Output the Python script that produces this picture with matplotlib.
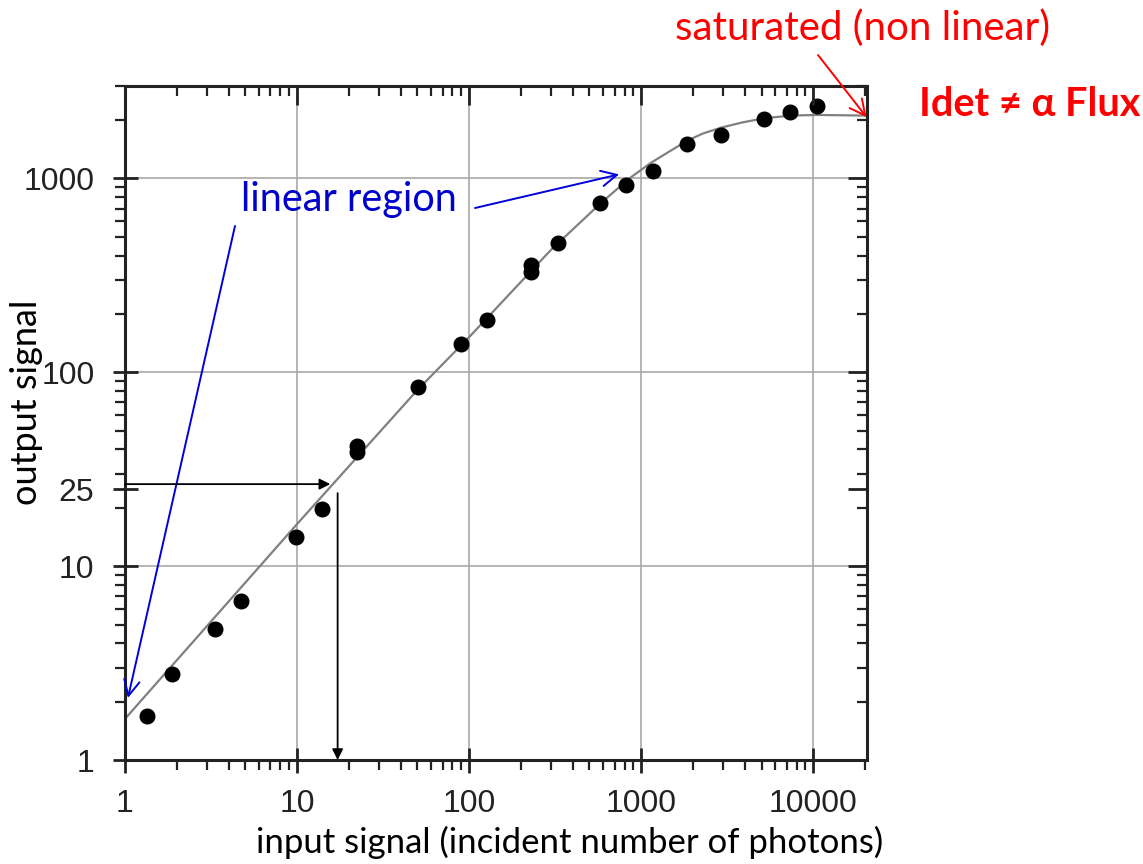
import matplotlib
matplotlib.use("Agg")
import matplotlib.pyplot as plt
from matplotlib.ticker import FixedLocator, NullFormatter, LogLocator

# ---- data ----
photons = [1.34, 1.88, 3.34, 4.74, 9.9, 14.0, 22.4, 22.4, 50.2, 89.3, 126.6,
           228, 228, 328, 576, 817, 1173, 1850, 2918, 5196, 7364, 10440]
signal = [1.69, 2.79, 4.76, 6.65, 14.2, 19.7, 41.6, 38.7, 84, 140, 187,
          359, 331, 467, 743, 921, 1088, 1501, 1671, 2023, 2198, 2360]

fit_x = [1, 10, 50, 100, 300, 600, 873, 1142, 1493, 1868, 2281, 2920, 3906,
         5220, 7460, 10440, 20000]
fit_y = [1.63, 16.5, 81, 152, 430, 765, 1016, 1207, 1397, 1574, 1706, 1831, 1950,
         2047, 2112, 2127, 2112]

x_ticks = [1, 10, 100, 1000, 10000]
x_tick_labels = ["1", "10", "100", "1000", "10000"]
y_ticks = [1, 10, 25, 100, 1000]
y_tick_labels = ["1", "10", "25", "100", "1000"]

W, H = 1143, 864
fig = plt.figure(figsize=(W / 100, H / 100), dpi=100)
L, R, T, B = 125, 867, 86, 760
ax = fig.add_axes([L / W, 1 - B / H, (R - L) / W, (B - T) / H])
ax.set_xscale("log")
ax.set_yscale("log")
ax.set_xlim(1, 20500)
ax.set_ylim(1, 3000)

ax.grid(False)
for v in [10, 100, 1000, 10000]:
    ax.axvline(v, color="#a8a8a8", lw=1.2, zorder=0)
for v in [10, 100, 1000]:
    ax.axhline(v, color="#a8a8a8", lw=1.2, zorder=0)

ax.plot(fit_x, fit_y, color="#808080", lw=1.6, zorder=2)
ax.plot(photons, signal, "o", color="black", ms=10.5, zorder=3)

tick_font = dict(family=["Liberation Sans", "DejaVu Sans"], size=23, color="#222222")
ax.xaxis.set_major_locator(FixedLocator(x_ticks))
ax.set_xticklabels(x_tick_labels, fontdict=tick_font)
ax.yaxis.set_major_locator(FixedLocator(y_ticks))
ax.set_yticklabels(y_tick_labels, fontdict=tick_font)
ax.xaxis.set_minor_locator(LogLocator(base=10, subs=range(2, 10), numticks=20))
ax.yaxis.set_minor_locator(LogLocator(base=10, subs=range(2, 10), numticks=20))
ax.xaxis.set_minor_formatter(NullFormatter())
ax.yaxis.set_minor_formatter(NullFormatter())
ax.tick_params(which="major", direction="inout", length=18, width=2, color="#222222")
ax.tick_params(axis="y", which="major", pad=13)
ax.tick_params(axis="x", which="major", pad=12)
ax.tick_params(which="minor", direction="out", length=7, width=1.6, color="#222222")
for s in ax.spines.values():
    s.set_linewidth(2.2)
    s.set_color("#222222")

# top / right ticks pointing inward
axt = ax.twiny()
axt.set_xscale("log")
axt.set_xlim(ax.get_xlim())
axt.xaxis.set_major_locator(FixedLocator(x_ticks))
axt.xaxis.set_minor_locator(LogLocator(base=10, subs=range(2, 10), numticks=20))
axt.xaxis.set_major_formatter(NullFormatter())
axt.xaxis.set_minor_formatter(NullFormatter())
axt.tick_params(which="major", direction="in", length=14, width=2, color="#222222")
axt.tick_params(which="minor", direction="in", length=7, width=1.6, color="#222222")
axr = ax.twinx()
axr.set_yscale("log")
axr.set_ylim(ax.get_ylim())
axr.yaxis.set_major_locator(FixedLocator(y_ticks))
axr.yaxis.set_minor_locator(LogLocator(base=10, subs=range(2, 10), numticks=20))
axr.yaxis.set_major_formatter(NullFormatter())
axr.yaxis.set_minor_formatter(NullFormatter())
axr.tick_params(which="major", direction="in", length=14, width=2, color="#222222")
axr.tick_params(which="minor", direction="in", length=7, width=1.6, color="#222222")
for a in (axt, axr):
    for s in a.spines.values():
        s.set_visible(False)

label_font = ["Lato", "DejaVu Sans"]

def fp(px, py):
    return (px / W, 1 - py / H)

fig.text(*fp(570, 853), "input signal (incident number of photons)", ha="center", va="baseline",
         fontsize=25, family=label_font, color="black")
fig.text(*fp(27, 402), "output signal", ha="center", va="center", rotation=90,
         fontsize=26, family=label_font, color="black")

# blue annotations
fig.text(*fp(349, 200), "linear region", ha="center", va="center", fontsize=28.5,
         family=label_font, color="#0000cc")
blue_arrow = dict(arrowstyle="->", color="#0000dd", lw=1.4, mutation_scale=28, shrinkA=0, shrinkB=0)
ax.annotate("", xy=(743, 1050), xycoords="data", xytext=fp(475, 208), textcoords="figure fraction",
            arrowprops=blue_arrow, annotation_clip=False)
ax.annotate("", xy=(1.04, 2.09), xycoords="data", xytext=fp(235, 226), textcoords="figure fraction",
            arrowprops=blue_arrow, annotation_clip=False)

# red annotations
fig.text(*fp(862, 28), "saturated (non linear)", ha="center", va="center", fontsize=29,
         family=label_font, color="#ff0000")
ax.annotate("", xy=(20400, 2070), xycoords="data", xytext=fp(818, 55), textcoords="figure fraction",
            arrowprops=dict(arrowstyle="->", color="#ff0000", lw=1.4, mutation_scale=28,
                            shrinkA=0, shrinkB=0), annotation_clip=False)
fig.text(*fp(1030, 104), "Idet \u2260 \u03b1 Flux", ha="center", va="center", fontsize=28.5,
         fontweight="bold", family=label_font, color="#ff0000")

# black arrows at 25
black_arrow = dict(arrowstyle="-|>", color="black", lw=1.3, mutation_scale=16, shrinkA=0, shrinkB=0)
ax.annotate("", xy=(15.6, 26.5), xytext=(1, 26.5), arrowprops=black_arrow, annotation_clip=False)
ax.annotate("", xy=(17.2, 1.0), xytext=(17.2, 23.8), arrowprops=black_arrow, annotation_clip=False)

fig.savefig("out.png", dpi=100)
